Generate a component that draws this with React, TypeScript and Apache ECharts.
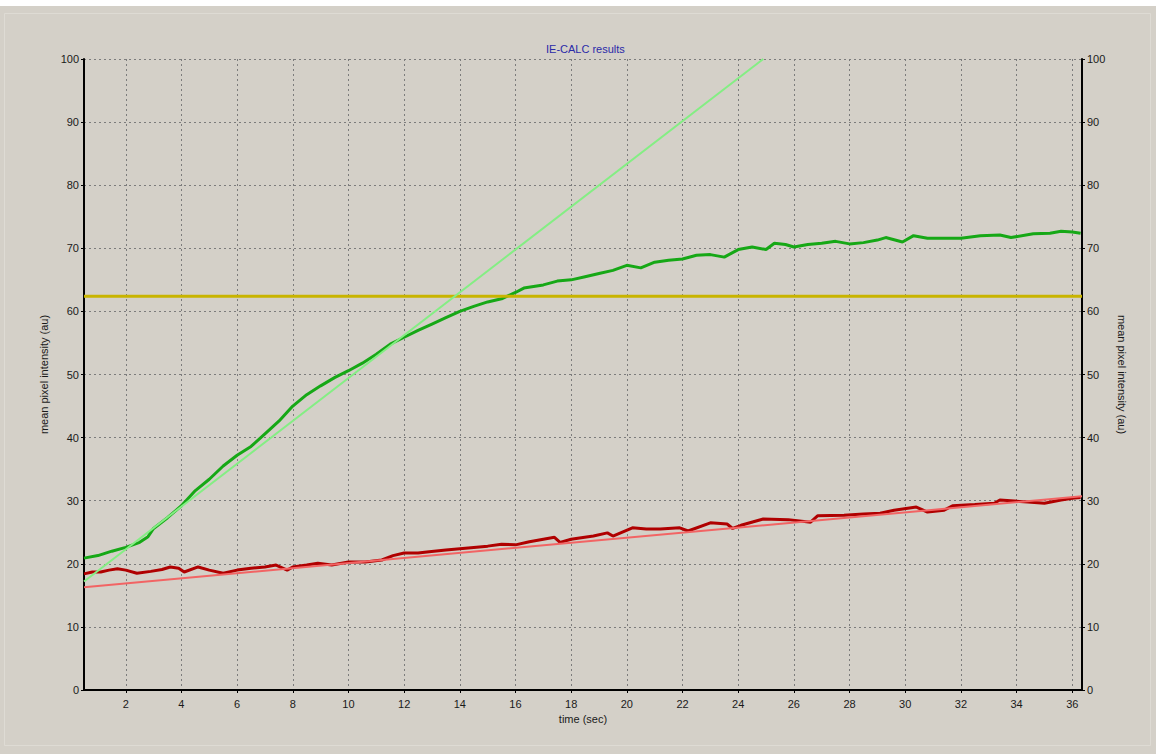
import React, { useEffect, useRef } from "react";
import * as echarts from "echarts";

// ---- data ----
const titleText = "IE-CALC results";
const xName = "time (sec)";
const yName = "mean pixel intensity (au)";
const xTicks = [2, 4, 6, 8, 10, 12, 14, 16, 18, 20, 22, 24, 26, 28, 30, 32, 34, 36];
const xRange = [0.5, 36.35];
const yRange = [0, 100];

// measured green curve [time, intensity]
const greenCurve: [number, number][] = [
  [0.5, 20.9], [1.0, 21.3], [1.5, 22.0], [2.0, 22.6], [2.5, 23.4], [2.8, 24.3],
  [3.0, 25.6], [3.5, 27.3], [4.0, 29.2], [4.5, 31.6], [5.0, 33.4], [5.5, 35.5],
  [6.0, 37.2], [6.5, 38.6], [7.0, 40.6], [7.5, 42.6], [8.0, 45.0], [8.5, 46.8],
  [9.0, 48.2], [9.5, 49.5], [10.0, 50.6], [10.5, 51.8], [11.0, 53.2], [11.5, 54.8],
  [12.0, 55.9], [12.5, 57.0], [13.0, 58.0], [13.5, 59.0], [14.0, 60.0], [14.5, 60.8],
  [15.0, 61.5], [15.5, 62.0], [16.0, 63.0], [16.3, 63.7], [17.0, 64.2], [17.5, 64.8],
  [18.0, 65.0], [18.5, 65.5], [19.0, 66.0], [19.5, 66.5], [20.0, 67.3], [20.5, 66.9],
  [21.0, 67.8], [21.5, 68.1], [22.0, 68.3], [22.5, 68.9], [23.0, 69.0], [23.5, 68.6],
  [24.0, 69.8], [24.5, 70.2], [25.0, 69.8], [25.3, 70.8], [25.7, 70.6], [26.0, 70.2],
  [26.5, 70.6], [27.0, 70.8], [27.5, 71.1], [28.0, 70.7], [28.5, 70.9], [29.0, 71.3],
  [29.3, 71.7], [29.9, 71.0], [30.3, 72.0], [30.8, 71.6], [31.5, 71.6], [32.0, 71.6],
  [32.7, 72.0], [33.4, 72.1], [33.8, 71.7], [34.6, 72.3], [35.2, 72.4], [35.6, 72.7],
  [36.0, 72.6], [36.3, 72.4],
];

// measured red curve [time, intensity]
const redCurve: [number, number][] = [
  [0.5, 18.4], [0.8, 18.7], [1.1, 18.7], [1.4, 19.0], [1.7, 19.2], [2.0, 19.0],
  [2.4, 18.5], [2.9, 18.8], [3.3, 19.1], [3.6, 19.5], [3.9, 19.3], [4.1, 18.7],
  [4.6, 19.5], [5.0, 19.0], [5.5, 18.5], [6.0, 19.0], [6.5, 19.3], [7.0, 19.5],
  [7.4, 19.8], [7.8, 19.0], [8.0, 19.5], [8.5, 19.8], [8.9, 20.1], [9.4, 19.8],
  [10.0, 20.3], [10.6, 20.3], [11.2, 20.6], [11.6, 21.3], [12.0, 21.7], [12.5, 21.7],
  [12.9, 21.9], [13.5, 22.2], [14.0, 22.4], [14.5, 22.6], [15.0, 22.8], [15.5, 23.1],
  [16.0, 23.0], [16.5, 23.5], [17.0, 23.9], [17.4, 24.2], [17.6, 23.4], [18.0, 23.9],
  [18.3, 24.1], [18.8, 24.4], [19.3, 24.9], [19.5, 24.4], [20.2, 25.7], [20.7, 25.5],
  [21.2, 25.5], [21.9, 25.7], [22.2, 25.2], [23.0, 26.5], [23.6, 26.3], [23.8, 25.6],
  [24.1, 26.1], [24.9, 27.1], [25.8, 27.0], [26.6, 26.6], [26.85, 27.6], [27.8, 27.7],
  [28.5, 27.9], [29.1, 28.0], [29.6, 28.5], [30.4, 29.0], [30.8, 28.2], [31.4, 28.5],
  [31.7, 29.2], [32.5, 29.4], [33.2, 29.6], [33.4, 30.1], [34.4, 29.8], [35.0, 29.6],
  [35.6, 30.1], [36.0, 30.4], [36.3, 30.5],
];

// fitted lines and threshold
const greenFit: [number, number][] = [[0.5, 17.2], [24.9, 100]];
const redFit: [number, number][] = [[0.5, 16.3], [36.35, 30.7]];
const thresholdValue = 62.4;

const FONT = "'Liberation Sans', Arial, sans-serif";

export default function App() {
  const ref = useRef<HTMLDivElement>(null);

  useEffect(() => {
    if (!ref.current) return;
    const chart = echarts.init(ref.current, undefined, { renderer: "svg" });
    const labelStyle = { color: "#1a1a1a", fontSize: 11, fontFamily: FONT };
    const gridStyle = { color: "#7c7c7c", width: 1, type: [2, 3] as number[] };
    const threshold: [number, number][] = [
      [xRange[0], thresholdValue],
      [xRange[1], thresholdValue],
    ];
    chart.setOption({
      animation: false,
      backgroundColor: "#d4d0c8",
      title: {
        text: titleText,
        left: 541,
        top: 38,
        textStyle: { color: "#2a2aa8", fontSize: 11, fontWeight: "normal", fontFamily: FONT },
      },
      graphic: [
        { type: "rect", shape: { x: 0, y: 0, width: 1156, height: 6 }, style: { fill: "#ffffff" }, silent: true },
        {
          type: "rect",
          shape: { x: 4.5, y: 13.5, width: 1146, height: 732 },
          style: { fill: "none", stroke: "#dedbd4", lineWidth: 1 },
          silent: true,
        },
      ],
      grid: { left: 84, right: 74, top: 59, bottom: 64, containLabel: false },
      xAxis: {
        type: "value",
        min: xRange[0],
        max: xRange[1],
        name: xName,
        nameLocation: "middle",
        nameGap: 23,
        nameTextStyle: labelStyle,
        axisLine: { show: true, onZero: false, lineStyle: { color: "#000", width: 2 } },
        axisTick: { show: true, length: 3, customValues: xTicks, lineStyle: { color: "#000" } },
        axisLabel: { ...labelStyle, margin: 8, customValues: xTicks },
        splitLine: { show: true, lineStyle: gridStyle },
      },
      yAxis: [
        {
          type: "value",
          min: yRange[0],
          max: yRange[1],
          interval: 10,
          position: "left",
          name: yName,
          nameLocation: "middle",
          nameGap: 30,
          nameRotate: 90,
          nameTextStyle: labelStyle,
          axisLine: { show: true, onZero: false, lineStyle: { color: "#000", width: 2 } },
          axisTick: { show: true, length: 3, lineStyle: { color: "#000" } },
          axisLabel: { ...labelStyle, margin: 5 },
          splitLine: { show: true, lineStyle: gridStyle },
        },
        {
          type: "value",
          min: yRange[0],
          max: yRange[1],
          interval: 10,
          position: "right",
          name: yName,
          nameLocation: "middle",
          nameGap: 31,
          nameRotate: -90,
          nameTextStyle: labelStyle,
          axisLine: { show: true, onZero: false, lineStyle: { color: "#000", width: 2 } },
          axisTick: { show: true, length: 3, lineStyle: { color: "#000" } },
          axisLabel: { ...labelStyle, margin: 5 },
          splitLine: { show: false },
        },
      ],
      series: [
        {
          name: "green",
          type: "line",
          data: greenCurve,
          showSymbol: false,
          symbol: "none",
          lineStyle: { color: "#16a816", width: 3 },
          z: 2,
        },
        {
          name: "red",
          type: "line",
          data: redCurve,
          showSymbol: false,
          symbol: "none",
          lineStyle: { color: "#b00000", width: 3 },
          z: 2,
        },
        {
          name: "threshold",
          type: "line",
          data: threshold,
          showSymbol: false,
          symbol: "none",
          lineStyle: { color: "#c8b400", width: 3 },
          z: 3,
        },
        {
          name: "green fit",
          type: "line",
          data: greenFit,
          showSymbol: false,
          symbol: "none",
          lineStyle: { color: "#84ee84", width: 2 },
          z: 4,
        },
        {
          name: "red fit",
          type: "line",
          data: redFit,
          showSymbol: false,
          symbol: "none",
          lineStyle: { color: "#f26464", width: 2 },
          z: 4,
        },
      ],
    });
    return () => chart.dispose();
  }, []);

  return (
    <div
      ref={ref}
      style={{ position: "fixed", left: 0, top: 0, width: 1156, height: 754 }}
    />
  );
}
